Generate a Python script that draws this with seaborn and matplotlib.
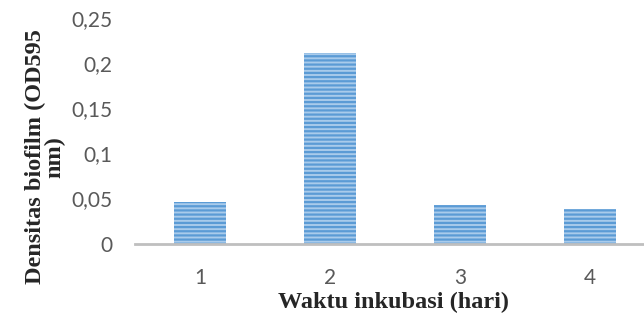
import matplotlib
matplotlib.use("Agg")
import matplotlib.pyplot as plt
from matplotlib.ticker import FuncFormatter
import pandas as pd
import seaborn as sns

# Biofilm density per incubation day
days = ["1", "2", "3", "4"]
density = [0.046, 0.211, 0.043, 0.038]
y_ticks = [0, 0.05, 0.1, 0.15, 0.2, 0.25]

df = pd.DataFrame({"day": days, "density": density})

sns.set_style("white")
plt.rcParams["hatch.linewidth"] = 1.6
plt.rcParams["hatch.color"] = "#5B9BD5"

fig = plt.figure(figsize=(6.44, 3.25), dpi=100)
ax = fig.add_axes([135 / 644, (325 - 243.5) / 325, 520 / 644, 225.5 / 325])

sns.barplot(data=df, x="day", y="density", color="#A9CBEB", width=0.4,
            saturation=1, ax=ax)
for p in ax.patches:
    p.set_hatch("----")
    p.set_edgecolor("#5B9BD5")
    p.set_linewidth(0)

ax.set_ylim(0, 0.25)
ax.set_xlim(-0.5, 3.5)
ax.set_yticks(y_ticks)
ax.yaxis.set_major_formatter(FuncFormatter(lambda v, _: ("%g" % v).replace(".", ",")))

for s in ["top", "right", "left"]:
    ax.spines[s].set_visible(False)
ax.spines["bottom"].set_color("#BFBFBF")
ax.spines["bottom"].set_linewidth(2)
ax.tick_params(axis="both", length=0, labelsize=15, labelcolor="#595959")
ax.tick_params(axis="y", pad=16)
ax.tick_params(axis="x", pad=18)
for lbl in ax.get_xticklabels() + ax.get_yticklabels():
    lbl.set_family("Lato")

ax.set_xlabel("")
ax.set_ylabel("")
fig.text(394 / 644, 1 - 302 / 325, "Waktu inkubasi (hari)", ha="center", va="center",
         family="Liberation Serif", fontweight="bold", fontsize=17.5)
fig.text(45 / 644, 1 - 157 / 325, "Densitas biofilm (OD595\nnm)", ha="center", va="center",
         rotation=90, family="Liberation Serif", fontweight="bold", fontsize=17.5,
         linespacing=0.85, multialignment="center")

fig.savefig("out.png", dpi=100)
